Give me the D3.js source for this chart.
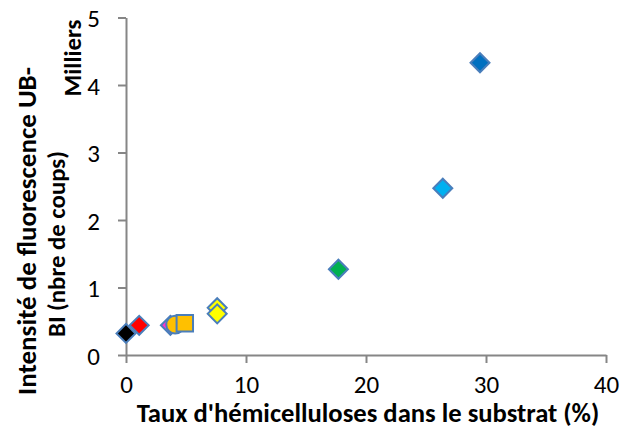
<!DOCTYPE html>
<html><head><meta charset="utf-8">
<script src="https://cdn.jsdelivr.net/npm/d3@7"></script>
<style>body{margin:0;background:#fff}svg{display:block}text{font-family:Calibri,Carlito,Lato,"Open Sans",sans-serif;fill:#000}</style>
</head><body>
<script>
// Data (counts); axis shown in thousands ("Milliers")
const hemicellulose = [3.7, 4.1, 4.9, 7.6, 7.6, 17.7, 26.4, 29.5, 1.1, 0];
const fluorescence  = [440, 450, 470, 700, 610, 1270, 2470, 4330, 440, 320];
const markerShapes  = ["diamond","circle","square","diamond","diamond","diamond","diamond","diamond","diamond","diamond"];
const markerFills   = ["#ff33cc","#ffc000","#ffc000","#ffff00","#ffff00","#00b050","#00b0f0","#0070c0","#ff0000","#000000"];
const xTicks = [0,10,20,30,40];
const yTicks = [0,1,2,3,4,5];

const W=622,H=428;
const FONT='Calibri,Carlito,Lato,"Open Sans",sans-serif';
const svg=d3.select("body").append("svg").attr("width",W).attr("height",H);
const x=d3.scaleLinear().domain([0,40]).range([126,606]);
const y=d3.scaleLinear().domain([0,5]).range([355,17.5]);
const axisColor="#868686";

const gx=svg.append("g").attr("transform","translate(0,355)")
  .call(d3.axisBottom(x).tickValues(xTicks).tickFormat(d3.format("d")).tickSize(8).tickSizeOuter(0));
const gy=svg.append("g").attr("transform","translate(126,0)")
  .call(d3.axisLeft(y).tickValues(yTicks).tickFormat(d3.format("d")).tickSize(8).tickSizeOuter(0));
[gx,gy].forEach(g=>{
  g.attr("font-size",25).attr("font-family",FONT);
  g.select(".domain").attr("stroke",axisColor).attr("stroke-width",2);
  g.selectAll(".tick line").attr("stroke",axisColor).attr("stroke-width",2);
  g.selectAll(".tick text").attr("fill","#000");
});
gx.selectAll(".tick text").attr("y",38).attr("dy",null);
gy.selectAll(".tick text").attr("x",-26).attr("dy","0.36em");

function fitText(t,target){
  const w=t.node().getComputedTextLength();
  const fs=parseFloat(t.attr("font-size"));
  t.attr("font-size",fs*target/w);
}
const xt=svg.append("text").attr("x",368).attr("y",422).attr("text-anchor","middle")
  .attr("font-weight","bold").attr("font-size",21).text("Taux d'hémicelluloses dans le substrat (%)");
fitText(xt,463);

const y1=svg.append("text").attr("transform","translate(36,231) rotate(-90)").attr("text-anchor","middle")
  .attr("font-weight","bold").attr("font-size",21).text("Intensité de fluorescence UB-");
fitText(y1,328);
const y2=svg.append("text").attr("transform","translate(65,244) rotate(-90)").attr("text-anchor","middle")
  .attr("font-weight","bold").attr("font-size",21).text("BI (nbre de coups)");
fitText(y2,186);
const ml=svg.append("text").attr("transform","translate(81,58) rotate(-90)").attr("text-anchor","middle")
  .attr("font-weight","bold").attr("font-size",21).text("Milliers");
fitText(ml,77);

const sym={diamond:d3.symbol().type(d3.symbolSquare).size(180),circle:d3.symbol().type(d3.symbolCircle).size(250),square:d3.symbol().type(d3.symbolSquare).size(270)};
const pts=hemicellulose.map((v,i)=>({x:v,y:fluorescence[i]/1000,s:markerShapes[i],f:markerFills[i]}));
svg.append("g").selectAll("path").data(pts).join("path")
  .attr("d",d=>sym[d.s]())
  .attr("transform",d=>`translate(${x(d.x)},${y(d.y)})`+(d.s==="diamond"?" rotate(45)":""))
  .attr("fill",d=>d.f).attr("stroke","#4a7ebb").attr("stroke-width",2);
</script>
</body></html>
